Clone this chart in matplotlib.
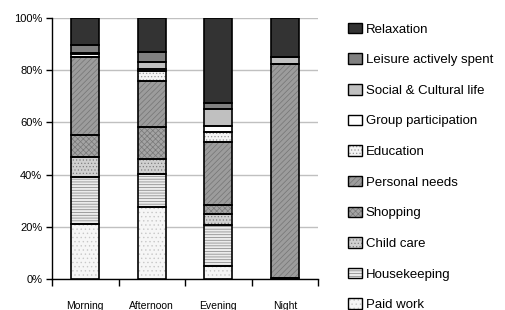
import matplotlib
matplotlib.use('Agg')
import matplotlib.pyplot as plt
from matplotlib.patches import Patch
import numpy as np

categories = ['Morning', 'Afternoon', 'Evening', 'Night']

# shares in %, bottom to top
paid_work = [21.0, 27.7, 5.1, 0.5]
housekeeping = [18.2, 12.5, 15.5, 0.0]
child_care = [7.7, 5.8, 4.2, 0.0]
shopping = [8.2, 12.1, 3.7, 0.0]
personal_needs = [30.1, 17.8, 24.1, 81.9]
education = [0.0, 3.8, 3.6, 0.0]
group_participation = [1.0, 0.8, 2.4, 0.0]
social_cultural = [0.5, 2.5, 6.7, 2.8]
leisure_active = [3.0, 4.1, 2.3, 0.0]
relaxation = [10.3, 12.9, 32.4, 14.8]

# name, values, face, hatch, hatch colour
series = [
    ('Paid work', paid_work, '#f6f6f6', '....', '#c8c8c8'),
    ('Housekeeping', housekeeping, '#ececec', '------', '#808080'),
    ('Child care', child_care, '#d0d0d0', '.....', '#808080'),
    ('Shopping', shopping, '#a4a4a4', 'xxxxxx', '#787878'),
    ('Personal needs', personal_needs, '#9c9c9c', '//////', '#747474'),
    ('Education', education, '#f4f4f4', '.....', '#9a9a9a'),
    ('Group participation', group_participation, '#ffffff', '', '#ffffff'),
    ('Social & Cultural life', social_cultural, '#c0c0c0', '', '#c0c0c0'),
    ('Leisure actively spent', leisure_active, '#808080', '', '#808080'),
    ('Relaxation', relaxation, '#333333', '', '#333333'),
]

plt.rcParams['font.family'] = ['Liberation Sans', 'DejaVu Sans']
plt.rcParams['hatch.linewidth'] = 0.5

fig = plt.figure(figsize=(5.05, 3.1), dpi=100)
ax = fig.add_axes([0.103, 0.1, 0.527, 0.842])

x = np.arange(len(categories))
bottom = np.zeros(len(categories))
handles = []
for name, vals, color, hatch, hcol in series:
    vals = np.array(vals)
    ax.bar(x, vals, 0.42, bottom=bottom, color=color, hatch=hatch,
           edgecolor=hcol, linewidth=0, zorder=3)
    ax.bar(x, vals, 0.42, bottom=bottom, fill=False,
           edgecolor='black', linewidth=1.2, zorder=4)
    handles.append((Patch(facecolor=color, hatch=hatch, edgecolor=hcol, linewidth=0),
                    Patch(fill=False, edgecolor='black', linewidth=1.0)))
    bottom += vals

ax.set_xlim(-0.5, 3.5)
ax.set_ylim(0, 100)
ax.set_yticks(range(0, 101, 20))
ax.set_yticklabels(['%d%%' % v for v in range(0, 101, 20)], fontsize=8)
ax.yaxis.grid(True, color='#c0c0c0', linewidth=1, zorder=0)
ax.set_axisbelow(True)

ax.set_xticks(np.arange(-0.5, 3.6, 1.0))
ax.set_xticklabels([])
ax.set_xticks(x, minor=True)
ax.set_xticklabels(categories, minor=True, fontsize=7.5,
                   family=['Liberation Sans Narrow', 'Liberation Sans'])
ax.tick_params(axis='x', which='minor', length=0, pad=16)
ax.tick_params(axis='x', which='major', length=5, direction='out', width=1)
ax.tick_params(axis='y', length=4, direction='out', width=1, pad=3)

for s in ['top', 'right']:
    ax.spines[s].set_visible(False)
ax.spines['left'].set_linewidth(1)
ax.spines['bottom'].set_linewidth(1)

fig.legend(handles[::-1], [s[0] for s in series][::-1],
           loc='upper left', bbox_to_anchor=(0.677, 0.948),
           frameon=False, fontsize=9.5, borderpad=0,
           handlelength=1.0, handleheight=0.85, handletextpad=0.3,
           labelspacing=1.35)

fig.savefig('out.png', dpi=100)
